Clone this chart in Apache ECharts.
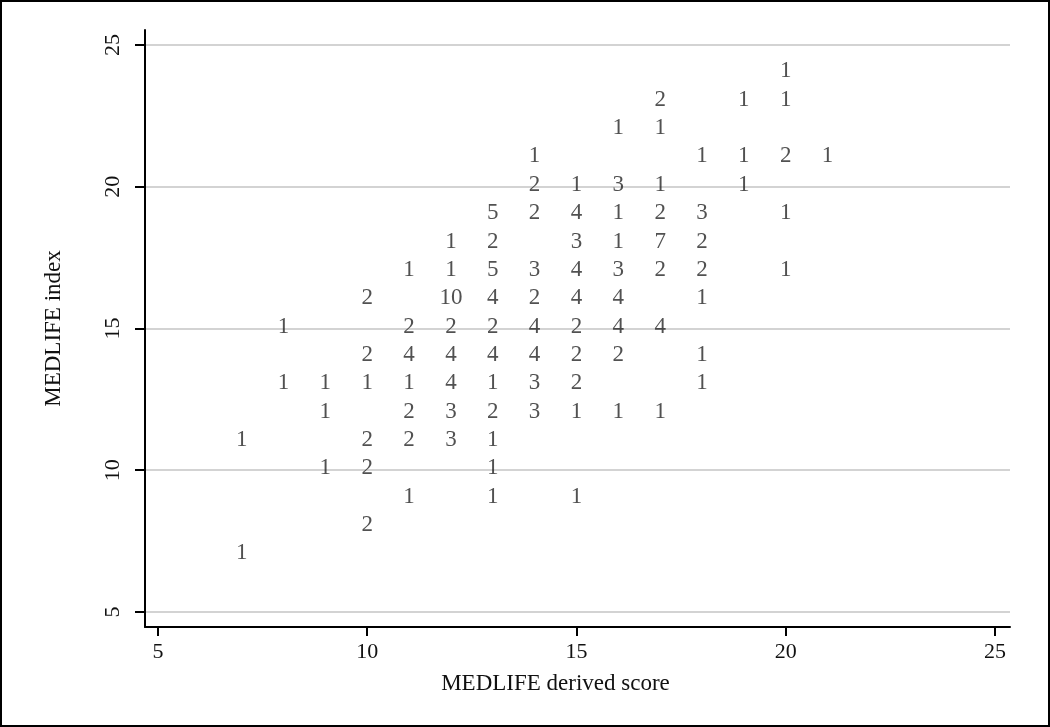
<!DOCTYPE html>
<html>
<head>
<meta charset="utf-8">
<script src="https://cdn.jsdelivr.net/npm/echarts@6/dist/echarts.min.js"></script>
<style>
  html, body { margin: 0; padding: 0; background: #fff; }
  #main { width: 1050px; height: 727px; box-sizing: border-box; border: 2px solid #000; }
</style>
</head>
<body>
<div id="main"></div>
<script>
  // MEDLIFE derived score (x), MEDLIFE index (y), number of subjects at that point
  var scoreX = [20, 17, 19, 20, 16, 17, 14, 18, 19, 20, 21, 14, 15, 16, 17, 19,
    13, 14, 15, 16, 17, 18, 20, 12, 13, 15, 16, 17, 18,
    11, 12, 13, 14, 15, 16, 17, 18, 20, 10, 12, 13, 14, 15, 16, 18,
    8, 11, 12, 13, 14, 15, 16, 17, 10, 11, 12, 13, 14, 15, 16, 18,
    8, 9, 10, 11, 12, 13, 14, 15, 18, 9, 11, 12, 13, 14, 15, 16, 17,
    7, 10, 11, 12, 13, 9, 10, 13, 11, 13, 15, 10, 7];
  var indexY = [24, 23, 23, 23, 22, 22, 21, 21, 21, 21, 21, 20, 20, 20, 20, 20,
    19, 19, 19, 19, 19, 19, 19, 18, 18, 18, 18, 18, 18,
    17, 17, 17, 17, 17, 17, 17, 17, 17, 16, 16, 16, 16, 16, 16, 16,
    15, 15, 15, 15, 15, 15, 15, 15, 14, 14, 14, 14, 14, 14, 14, 14,
    13, 13, 13, 13, 13, 13, 13, 13, 13, 12, 12, 12, 12, 12, 12, 12, 12,
    11, 11, 11, 11, 11, 10, 10, 10, 9, 9, 9, 8, 7];
  var freq = [1, 2, 1, 1, 1, 1, 1, 1, 1, 2, 1, 2, 1, 3, 1, 1,
    5, 2, 4, 1, 2, 3, 1, 1, 2, 3, 1, 7, 2,
    1, 1, 5, 3, 4, 3, 2, 2, 1, 2, 10, 4, 2, 4, 4, 1,
    1, 2, 2, 2, 4, 2, 4, 4, 2, 4, 4, 4, 4, 2, 2, 1,
    1, 1, 1, 1, 4, 1, 3, 2, 1, 1, 2, 3, 2, 3, 1, 1, 1,
    1, 2, 2, 3, 1, 1, 2, 1, 1, 1, 1, 2, 1];
  var tickValues = [5, 10, 15, 20, 25];

  var points = scoreX.map(function (x, i) { return [x, indexY[i], freq[i]]; });

  var font = "'Liberation Serif', 'DejaVu Serif', serif";
  var chart = echarts.init(document.getElementById('main'));
  chart.setOption({
    animation: false,
    grid: { left: 143, right: 38, top: 28, bottom: 98, containLabel: false },
    xAxis: {
      type: 'value',
      min: 4.69, max: 25.36,
      name: 'MEDLIFE derived score',
      nameLocation: 'middle',
      nameGap: 45,
      nameTextStyle: { fontFamily: font, fontSize: 23, color: '#111', padding: [0, 44, 0, 0] },
      axisLine: { show: true, lineStyle: { color: '#000', width: 2 } },
      axisTick: { show: true, length: 9, customValues: tickValues, lineStyle: { color: '#000', width: 2 } },
      axisLabel: { customValues: tickValues, margin: 14, fontFamily: font, fontSize: 22, color: '#111' },
      splitLine: { show: false }
    },
    yAxis: {
      type: 'value',
      min: 4.47, max: 25.53,
      name: 'MEDLIFE index',
      nameLocation: 'middle',
      nameGap: 80,
      nameRotate: 90,
      nameTextStyle: { fontFamily: font, fontSize: 23, color: '#111' },
      axisLine: { show: true, lineStyle: { color: '#000', width: 2 } },
      axisTick: { show: true, length: 10, customValues: tickValues, lineStyle: { color: '#000', width: 2 } },
      axisLabel: { customValues: tickValues, rotate: 90, margin: 21, fontFamily: font, fontSize: 22, color: '#111' },
      splitLine: { show: true, lineStyle: { color: '#c4c4c4', width: 1.5 } }
    },
    series: [{
      type: 'scatter',
      data: points,
      symbolSize: 2,
      itemStyle: { color: 'rgba(0,0,0,0)' },
      label: {
        show: true,
        position: 'inside',
        offset: [0, -2],
        formatter: function (p) { return p.value[2]; },
        fontFamily: font,
        fontSize: 23,
        color: '#262626'
      }
    }]
  });
</script>
</body>
</html>
